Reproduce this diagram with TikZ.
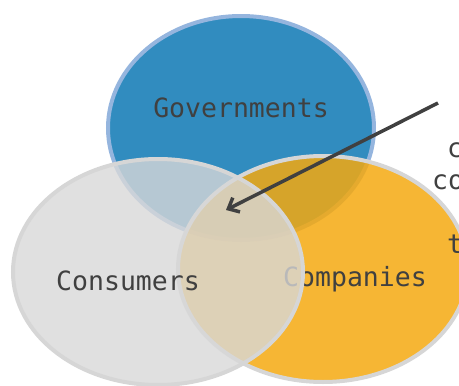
\documentclass[tikz,border=0pt]{standalone}
\usepackage{fontspec}
\setmonofont{DejaVu Sans Mono}
\usetikzlibrary{arrows.meta}

\definecolor{govblue}{HTML}{318CBF}
\definecolor{govrim}{HTML}{95B5DE}
\definecolor{conggray}{HTML}{D8D8D8}
\definecolor{conrim}{HTML}{D6D6D6}
\definecolor{comporange}{HTML}{F4A910}
\definecolor{labelgray}{HTML}{404040}

\begin{document}
\begin{tikzpicture}[x=1pt,y=-1pt,
  setlabel/.style={font=\ttfamily\fontsize{26.5}{32}\selectfont,text=labelgray,inner sep=0pt},
  sidetext/.style={setlabel,anchor=base west},
  ringline/.style={line width=4pt}]
 \useasboundingbox (0,0) rectangle (459,386);
 \clip (0,0) rectangle (459,386);
 % the three sets
 \draw[ringline,draw=govrim,fill=govblue](241,128) ellipse [x radius=133, y radius=112];
 \node[setlabel] (gov) at (241,108) {Governments};
 \draw[ringline,draw=conrim,fill=comporange,fill opacity=0.85](323,269) ellipse [x radius=145, y radius=113];
 \node[setlabel] (comp) at (355,279) {Companies};
 \draw[ringline,draw=conrim,fill=conggray,fill opacity=0.8](158,272) ellipse [x radius=145, y radius=113];
 \node[setlabel] (cons) at (128,281) {Consumers};
 % text at the right edge
 \node[sidetext] (line1) at (447,157) {c};
 \node[sidetext] (line2) at (432,189) {co};
 \node[sidetext] (line3) at (447,253) {t};
 % arrow into the middle
 \coordinate (tail) at (438,103);
 \coordinate (tip) at (226,210);
 \draw[line width=3.5pt,labelgray,-{Straight Barb[length=9pt,width=16pt]}](tail)--(tip);
\end{tikzpicture}
\end{document}
